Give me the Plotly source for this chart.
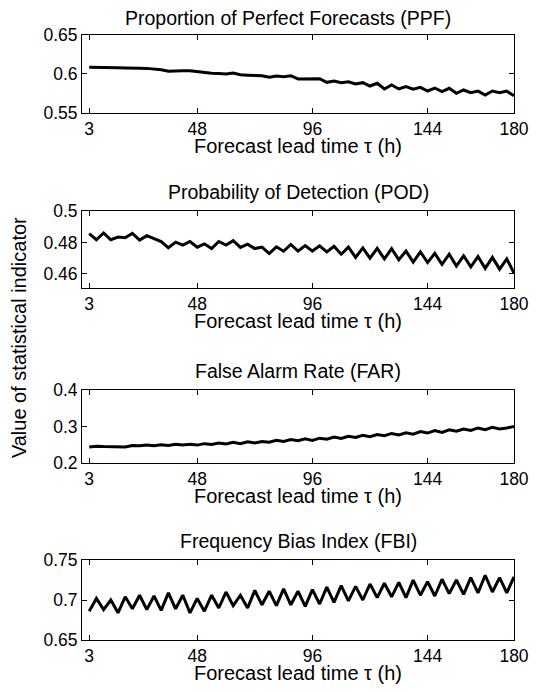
import plotly.graph_objects as go

lead_time = list(range(3, 181, 3))

ppf = [0.6087, 0.6086, 0.6087, 0.6090, 0.6080, 0.6078, 0.6080, 0.6075, 0.6072, 0.6068,
       0.6055, 0.6035, 0.6040, 0.6040, 0.6040, 0.6030, 0.6015, 0.6010, 0.6005, 0.6000,
       0.6012, 0.5990, 0.5985, 0.5980, 0.5978, 0.5960, 0.5975, 0.5966, 0.5978, 0.5936,
       0.5940, 0.5945, 0.5940, 0.5893, 0.5910, 0.5889, 0.5900, 0.5872, 0.5889, 0.5846,
       0.5881, 0.5808, 0.5859, 0.5808, 0.5838, 0.5804, 0.5829, 0.5782, 0.5820, 0.5774,
       0.5816, 0.5752, 0.5795, 0.5760, 0.5780, 0.5731, 0.5782, 0.5760, 0.5780, 0.5722]

pod = [0.4856, 0.4817, 0.4860, 0.4817, 0.4834, 0.4830, 0.4858, 0.4815, 0.4843, 0.4825,
       0.4805, 0.4766, 0.4802, 0.4783, 0.4806, 0.4770, 0.4791, 0.4761, 0.4806, 0.4783,
       0.4811, 0.4768, 0.4789, 0.4761, 0.4770, 0.4729, 0.4772, 0.4744, 0.4787, 0.4745,
       0.4780, 0.4745, 0.4778, 0.4740, 0.4775, 0.4725, 0.4770, 0.4705, 0.4765, 0.4700,
       0.4762, 0.4695, 0.4760, 0.4690, 0.4745, 0.4675, 0.4740, 0.4672, 0.4730, 0.4660,
       0.4725, 0.4650, 0.4715, 0.4645, 0.4710, 0.4635, 0.4705, 0.4630, 0.4695, 0.4605]

far = [0.244, 0.246, 0.245, 0.245, 0.245, 0.244, 0.248, 0.247, 0.249, 0.247,
       0.250, 0.248, 0.251, 0.249, 0.251, 0.249, 0.253, 0.251, 0.255, 0.252,
       0.257, 0.253, 0.258, 0.255, 0.259, 0.257, 0.262, 0.259, 0.264, 0.261,
       0.266, 0.262, 0.268, 0.265, 0.271, 0.267, 0.273, 0.270, 0.276, 0.272,
       0.278, 0.275, 0.281, 0.277, 0.283, 0.279, 0.286, 0.282, 0.289, 0.284,
       0.291, 0.287, 0.293, 0.289, 0.296, 0.291, 0.298, 0.293, 0.296, 0.300]

fbi = [0.686, 0.702, 0.688, 0.700, 0.684, 0.704, 0.689, 0.706, 0.688, 0.705,
       0.687, 0.709, 0.689, 0.706, 0.684, 0.702, 0.686, 0.706, 0.690, 0.710,
       0.693, 0.706, 0.690, 0.712, 0.694, 0.711, 0.693, 0.714, 0.694, 0.711,
       0.692, 0.713, 0.695, 0.716, 0.697, 0.718, 0.699, 0.717, 0.700, 0.720,
       0.703, 0.721, 0.704, 0.722, 0.703, 0.725, 0.706, 0.723, 0.705, 0.726,
       0.708, 0.725, 0.707, 0.728, 0.709, 0.731, 0.710, 0.728, 0.709, 0.729]

titles = ["Proportion of Perfect Forecasts (PPF)", "Probability of Detection (POD)",
          "False Alarm Rate (FAR)", "Frequency Bias Index (FBI)"]
series = [ppf, pod, far, fbi]
x_tickvals = [3, 48, 96, 144, 180]
y_ranges = [[0.55, 0.65], [0.451, 0.5], [0.2, 0.4], [0.65, 0.75]]
y_tickvals = [[0.55, 0.6, 0.65], [0.46, 0.48, 0.5], [0.2, 0.3, 0.4], [0.65, 0.7, 0.75]]
y_ticktext = [["0.55", "0.6", "0.65"], ["0.46", "0.48", "0.5"], ["0.2", "0.3", "0.4"], ["0.65", "0.7", "0.75"]]
x_label = "Forecast lead time τ (h)"
y_label = "Value of statistical indicator"

domains = [[0.8711, 1.0], [0.5818, 0.7091], [0.2926, 0.4132], [0.0, 0.1322]]

FONT = "Liberation Sans, Arial, sans-serif"
fig = go.Figure()
layout = dict(
    width=533, height=676,
    margin=dict(l=74, r=15, t=27, b=44),
    paper_bgcolor="white", plot_bgcolor="white",
    showlegend=False,
    font=dict(family=FONT, size=17.5, color="black"),
)
annotations = []
for k in range(4):
    n = "" if k == 0 else str(k + 1)
    fig.add_trace(go.Scatter(x=lead_time, y=series[k], mode="lines",
                             line=dict(color="black", width=3),
                             xaxis="x" + n, yaxis="y" + n))
    axcommon = dict(showline=True, linecolor="black", linewidth=1, mirror="ticks",
                    ticks="inside", ticklen=5, tickcolor="black", showgrid=False,
                    zeroline=False, tickfont=dict(family=FONT, size=17.5, color="black"))
    layout["xaxis" + n] = dict(domain=[0, 1], range=[0, 180], tickvals=x_tickvals,
                               anchor="y" + n, **axcommon)
    layout["yaxis" + n] = dict(domain=domains[k], range=y_ranges[k], tickvals=y_tickvals[k],
                               ticktext=y_ticktext[k], anchor="x" + n, **axcommon)
    annotations.append(dict(text=titles[k], xref="paper", yref="paper", x=0.5, y=domains[k][1],
                            xanchor="center", yanchor="bottom", yshift=4 if k == 0 else 6,
                            xshift=-10 if k == 0 else 0, showarrow=False,
                            font=dict(family=FONT, size=19.5, color="black")))
    annotations.append(dict(text=x_label, xref="paper", yref="paper", x=0.5, y=domains[k][0],
                            xanchor="center", yanchor="middle", yshift=-33, showarrow=False,
                            font=dict(family=FONT, size=20, color="black")))
annotations.append(dict(text=y_label, xref="paper", yref="paper", x=0, y=0.499,
                        xanchor="center", yanchor="middle", xshift=-63, textangle=-90,
                        showarrow=False, font=dict(family=FONT, size=20, color="black")))
layout["annotations"] = annotations
fig.update_layout(**layout)
fig.write_html("out.html")
